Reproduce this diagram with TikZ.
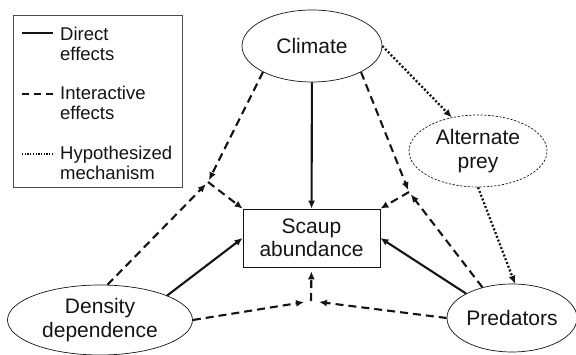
\documentclass[tikz,border=0pt]{standalone}
\usepackage{fontspec}
\setmainfont{Liberation Sans}
\usetikzlibrary{shapes.geometric,arrows.meta}
\begin{document}
\begin{tikzpicture}[x=1pt,y=-1pt,
 ink/.style={color=black!92},
 ell/.style={ink,ellipse,draw,line width=0.7pt,inner sep=0pt,align=center,font=\fontsize{21}{23.5}\selectfont},
 tip/.style={-{Latex[length=8pt,width=7pt]}},
 direct/.style={ink,line width=2.1pt,tip},
 inter/.style={ink,line width=2.1pt,dash pattern=on 8pt off 5pt,tip},
 hypo/.style={ink,line width=2.3pt,dash pattern=on 2pt off 2pt,tip},
 legtext/.style={ink,anchor=west,align=left,inner sep=0pt,font=\fontsize{18.5}{20}\selectfont},
]
\useasboundingbox (0,0) rectangle (576,355);
% legend
\node[draw=black!70,line width=0.7pt,minimum width=169pt,minimum height=172pt,inner sep=0pt] (legend) at (97.5,101) {};
\coordinate (l1a) at (22,33); \coordinate (l1b) at (53,33);
\coordinate (l2a) at (22,94); \coordinate (l2b) at (53,94);
\coordinate (l3a) at (22,154); \coordinate (l3b) at (53,154);
\draw[ink,line width=1.8pt] (l1a) -- (l1b);
\draw[ink,line width=1.8pt,dash pattern=on 7pt off 5pt] (l2a) -- (l2b);
\draw[ink,line width=1.3pt,dash pattern=on 1.3pt off 1.4pt] (l3a) -- (l3b);
\node[legtext] (t1) at (60,44) {Direct\\effects};
\node[legtext] (t2) at (60,103) {Interactive\\effects};
\node[legtext] (t3) at (60,163) {Hypothesized\\mechanism};
% nodes
\node[ell,minimum width=140pt,minimum height=72pt] (climate) at (312,46) {Climate};
\node[ell,dash pattern=on 2.2pt off 1.6pt,minimum width=138pt,minimum height=72pt] (alt) at (478,151) {Alternate\\prey};
\node[ell,minimum width=130pt,minimum height=68pt] (pred) at (512,318) {Predators};
\node[ell,minimum width=185pt,minimum height=70pt] (dens) at (100,320) {Density\\dependence};
\node[ink,draw,line width=0.7pt,minimum width=137pt,minimum height=58pt,inner sep=0pt,align=center,font=\fontsize{21}{23.5}\selectfont] (scaup) at (311.5,238) {Scaup\\abundance};
% junctions
\coordinate (jl) at (208,182);
\coordinate (jr) at (409,192);
\coordinate (jb) at (311,301);
% direct
\draw[direct] (climate) -- (scaup);
\draw[direct] (dens.20) -- (scaup.west);
\draw[direct] (pred.152) -- (scaup.east);
% interactive
\draw[inter,shorten >=2pt] (climate.208) -- (jl);
\draw[inter,shorten >=3pt] (dens.78) -- (jl);
\draw[inter] (jl) -- (scaup.north west);
\draw[inter,shorten >=2pt] (climate.332) -- (jr);
\draw[inter,shorten >=3pt] (pred.134) -- (jr);
\draw[inter] (jr) -- (scaup.north east);
\draw[inter,shorten >=7pt] (dens.east) -- (jb);
\draw[inter,shorten >=8pt] (pred.west) -- (jb);
\draw[inter,shorten >=4pt] (jb) -- (scaup.south);
% hypothesized
\draw[hypo] (climate.east) -- (alt.128);
\draw[hypo] (alt.south) -- (pred.85);
\end{tikzpicture}
\end{document}
